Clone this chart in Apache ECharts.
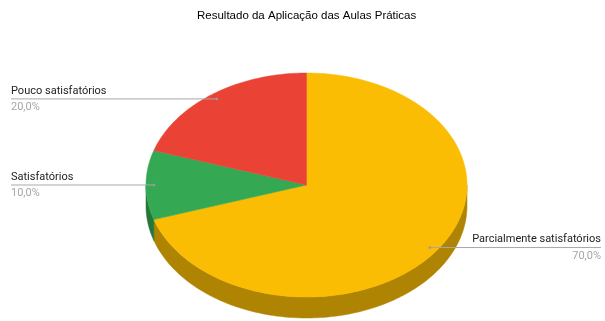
<!DOCTYPE html>
<html>
<head>
<meta charset="utf-8">
<script src="https://cdn.jsdelivr.net/npm/echarts@6/dist/echarts.min.js"></script>
<style>
  html, body { margin: 0; padding: 0; background: #fff; }
  #chart { width: 605px; height: 321px; }
</style>
</head>
<body>
<div id="chart"></div>
<script>
// Slices are listed clockwise starting at 12 o'clock
const categories = ['Parcialmente satisfatórios', 'Satisfatórios', 'Pouco satisfatórios'];
const values = [70, 10, 20];
const topColors = ['#FBBC04', '#34A853', '#EA4335'];
const sideColors = ['#B08403', '#24763A', '#A42F25'];

const total = values.reduce((a, b) => a + b, 0);
const startAngles = [];
values.reduce((acc, v) => { startAngles.push(acc); return acc + v; }, 0);

// Pie geometry (tilted disc)
const CX = 306.5, CY = 185, RX = 160.5, RY = 112, DEPTH = 21;
const LABEL_FONT = '11px Roboto, Arial, sans-serif';

function pt(deg, dy) {
  const r = deg * Math.PI / 180;
  return [CX + RX * Math.sin(r), CY - RY * Math.cos(r) + (dy || 0)];
}

function arcPoints(a0, a1, dy) {
  const pts = [];
  const n = Math.max(2, Math.ceil(Math.abs(a1 - a0)));
  for (let i = 0; i <= n; i++) pts.push(pt(a0 + (a1 - a0) * i / n, dy));
  return pts;
}

function fmtPct(v) {
  return (v / total * 100).toFixed(1).replace('.', ',') + '%';
}

function renderItem(params, api) {
  const i = params.dataIndex;
  const a0 = startAngles[i] / total * 360;
  const a1 = (startAngles[i] + values[i]) / total * 360;
  const children = [];

  // Visible wall: the front half of the disc (90deg..270deg)
  const s = Math.max(a0, 90), e = Math.min(a1, 270);
  if (e > s) {
    const topEdge = arcPoints(s, e, 0);
    const bottomEdge = arcPoints(e, s, DEPTH);
    children.push({
      type: 'polygon',
      z2: 1,
      shape: { points: topEdge.concat(bottomEdge) },
      style: { fill: sideColors[i], stroke: sideColors[i], lineWidth: 0.5 }
    });
  }

  // Top face
  children.push({
    type: 'polygon',
    z2: 10,
    shape: { points: [[CX, CY]].concat(arcPoints(a0, a1, 0)) },
    style: { fill: topColors[i], stroke: topColors[i], lineWidth: 0.5 }
  });

  // Leader line and labels
  const mid = (a0 + a1) / 2;
  const r = mid * Math.PI / 180;
  const ax = CX + 0.95 * RX * Math.sin(r);
  const ay = CY - 0.95 * RY * Math.cos(r);
  const right = Math.sin(r) > 0;
  const lx = right ? 601 : 11;
  children.push({
    type: 'line',
    z2: 20,
    shape: { x1: ax, y1: ay, x2: lx, y2: ay },
    style: { stroke: '#a8a8a8', lineWidth: 1 }
  });
  children.push({
    type: 'circle',
    z2: 21,
    shape: { cx: ax, cy: ay, r: 1.3 },
    style: { fill: '#9a9a9a' }
  });
  children.push({
    type: 'text',
    z2: 22,
    style: {
      x: lx, y: ay - 8, text: categories[i], font: LABEL_FONT, fill: '#222222',
      textAlign: right ? 'right' : 'left', textVerticalAlign: 'middle'
    }
  });
  children.push({
    type: 'text',
    z2: 22,
    style: {
      x: lx, y: ay + 8.5, text: fmtPct(values[i]), font: LABEL_FONT, fill: '#a6a6a6',
      textAlign: right ? 'right' : 'left', textVerticalAlign: 'middle'
    }
  });

  return { type: 'group', children };
}

const chart = echarts.init(document.getElementById('chart'), null, { renderer: 'canvas' });
chart.setOption({
  animation: false,
  backgroundColor: '#ffffff',
  title: {
    text: 'Resultado da Aplicação das Aulas Práticas',
    left: 197,
    top: 10,
    padding: 0,
    textStyle: { fontSize: 11.5, fontWeight: 'normal', color: '#000000', fontFamily: 'Arial, "Liberation Sans", sans-serif' }
  },
  series: [{
    type: 'custom',
    coordinateSystem: 'none',
    renderItem: renderItem,
    data: values.map((v, i) => ({ name: categories[i], value: v }))
  }]
});
</script>
</body>
</html>
